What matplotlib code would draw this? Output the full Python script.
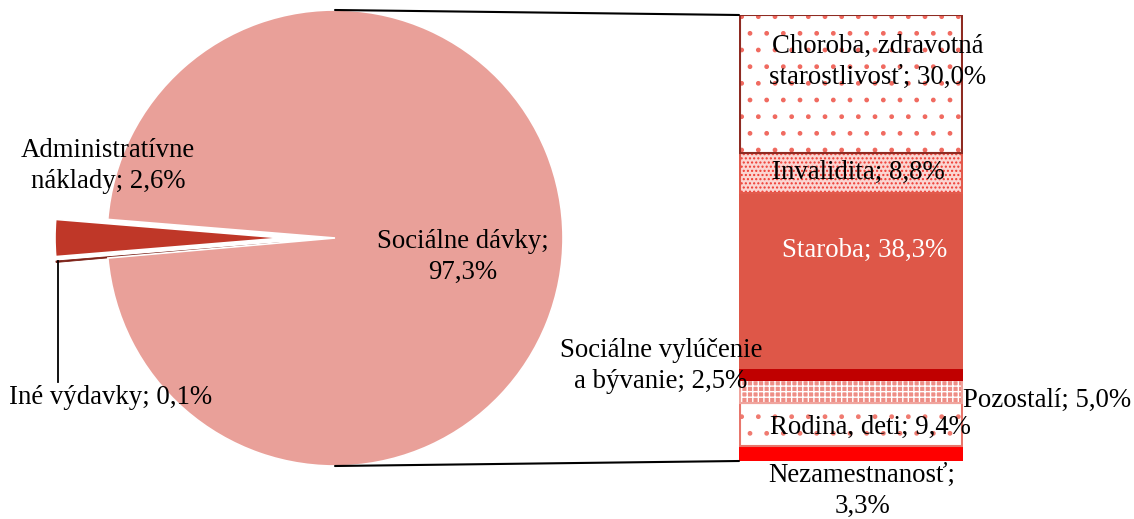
import matplotlib
matplotlib.use("Agg")
import matplotlib.pyplot as plt
from matplotlib.patches import ConnectionPatch

plt.rcParams['font.family'] = ['Liberation Serif', 'DejaVu Serif']

# Pie: structure of total expenditure (%)
pie_labels = ["Administratívne\nnáklady", "Iné výdavky", "Sociálne dávky"]
pie_values = [2.6, 0.1, 97.3]
pie_colors = ["#BF3728", "#7A1E14", "#E9A099"]

# Breakdown of social benefits (% of total), bottom to top
bar_labels = ["Nezamestnanosť;\n", "Rodina, deti; ", "Pozostalí; ",
              "Sociálne vylúčenie\na bývanie; ", "Staroba; ", "Invalidita; ",
              "Choroba, zdravotná\nstarostlivosť; "]
bar_values = [3.3, 9.4, 5.0, 2.5, 38.3, 8.8, 30.0]


def pct(v):
    return f"{v:.1f}".replace(".", ",") + "%"


W, H = 1134, 519
fig = plt.figure(figsize=(W / 100, H / 100), dpi=100)

# ---- pie (drawn in pixel-like data units, y pointing up) ----
ax = fig.add_axes([0, 0, 1, 1])
cx, cy, R = 335, H - 238, 228
explode = [52, 52, 0]
start = 180 - 360 * pie_values[0] / 100 / 2
wedges, _ = ax.pie(pie_values, colors=pie_colors, startangle=start,
                   explode=explode, center=(cx, cy), radius=R, frame=True,
                   wedgeprops=dict(edgecolor="white", linewidth=1.2))
wedges[1].set_edgecolor("#7A1E14")
wedges[1].set_linewidth(0.6)
ax.set_xlim(0, W)
ax.set_ylim(0, H)
ax.set_axis_off()

FS = 19.3


def put(px, py, s, **kw):
    """Figure-level text placed in the pie's pixel-like coordinates."""
    fig.text(px, H - py, s, transform=ax.transData, ha="center", va="center",
             fontsize=FS, linespacing=1.32, zorder=10, **kw)


put(108, 166, f"{pie_labels[0]}; {pct(pie_values[0])}")
put(111, 398, f"{pie_labels[1]}; {pct(pie_values[1])}")
put(463, 257, f"{pie_labels[2]};\n{pct(pie_values[2])}")
# leader line of the tiny slice
ax.plot([58, 58], [H - 261, H - 382], color="black", lw=1.3)

# ---- stacked bar of social benefits ----
bx0, bx1, by_top, by_bot = 739, 963, 15, 461
ax2 = fig.add_axes([bx0 / W, (H - by_bot) / H, (bx1 - bx0) / W,
                    (by_bot - by_top) / H])
total = sum(bar_values)
ax2.set_xlim(-0.5, 0.5)
ax2.set_ylim(0, total)
ax2.set_axis_off()

face = ["#FF0000", "white", "#EE8E86", "#C00000", "#DE5748", "#FBD6D2",
        "white"]
hatch = [None, ".", "+++", None, None, "....", "."]
hcol = [None, "#F07A70", "white", None, None, "#EE3B32", "#F06A60"]
edge = ["#FF0000", "#E8766C", "#F0A49D", "#C00000", "#DE5748", "#E25A4C",
        "#8E2B22"]

bottom = 0
for v, fc, ht, hc, ec in zip(bar_values, face, hatch, hcol, edge):
    ax2.bar(0, v, width=1, bottom=bottom, color=fc, linewidth=0)
    if ht:
        ax2.bar(0, v, width=1, bottom=bottom, facecolor="none", edgecolor=hc,
                hatch=ht, linewidth=0)
    ax2.bar(0, v, width=0.995, bottom=bottom, facecolor="none", edgecolor=ec,
            linewidth=1.5)
    bottom += v

# bar labels (pixel anchor positions)
label_pos = [(862, 491), (870, 427), (1047, 400), (661, 366), (865, 250),
             (858, 172), (878, 62)]
label_col = ["black"] * 4 + ["white"] + ["black"] * 2
for lab, v, (px, py), col in zip(bar_labels, bar_values, label_pos, label_col):
    put(px, py, lab + pct(v), color=col)

# connector lines pie -> bar
for yp, yb in [(cy + R, total), (cy - R, 0)]:
    con = ConnectionPatch(xyA=(cx, yp), coordsA=ax.transData,
                          xyB=(-0.5, yb), coordsB=ax2.transData,
                          color="black", lw=1.5)
    fig.add_artist(con)

fig.savefig("out.png", dpi=100)
